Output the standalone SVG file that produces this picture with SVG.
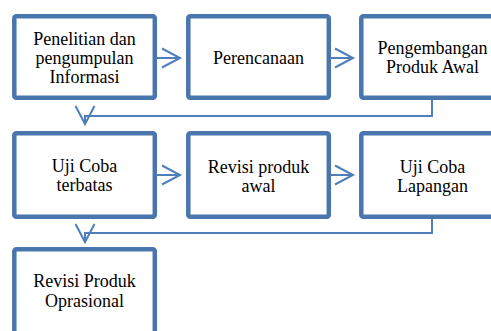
<svg xmlns="http://www.w3.org/2000/svg" width="491" height="331" viewBox="0 0 491 331">
<defs>
<style>
.box{fill:#ffffff;stroke:#4a76ae;stroke-width:4.5}
.t{font-family:"Liberation Serif","Times New Roman",serif;font-size:18px;fill:#000;text-anchor:middle}
.c{fill:none;stroke:#4f7fbb;stroke-width:2}
</style>
<marker id="ah" markerUnits="userSpaceOnUse" viewBox="-20 -12 22 24" markerWidth="22" markerHeight="24" refX="0" refY="0" orient="auto" overflow="visible">
<path d="M-18,-9.5 L0,0 L-18,9.5" fill="none" stroke="#4f7fbb" stroke-width="2"/>
</marker>
</defs>
<rect width="491" height="331" fill="#ffffff"/>
<g id="connectors">
<path class="c" d="M157,58 H180" marker-end="url(#ah)"/>
<path class="c" d="M331,58 H353" marker-end="url(#ah)"/>
<path class="c" d="M432,100 V116 H85 V124" marker-end="url(#ah)"/>
<path class="c" d="M157,175 H180" marker-end="url(#ah)"/>
<path class="c" d="M331,175 H353" marker-end="url(#ah)"/>
<path class="c" d="M432,219 V233 H85 V242" marker-end="url(#ah)"/>
</g>
<g id="n1"><rect class="box" x="14.3" y="16.3" width="140.5" height="81.5" rx="2"/>
<text class="t" x="84.5" y="45">Penelitian dan</text><text class="t" x="84.5" y="64">pengumpulan</text><text class="t" x="84.5" y="83">Informasi</text></g>
<g id="n2"><rect class="box" x="188.3" y="16.3" width="140.5" height="81.5" rx="2"/>
<text class="t" x="258.5" y="63.5">Perencanaan</text></g>
<g id="n3"><rect class="box" x="361.3" y="16.3" width="140.5" height="81.5" rx="2"/>
<text class="t" x="432.5" y="54">Pengembangan</text><text class="t" x="432.5" y="73">Produk Awal</text></g>
<g id="n4"><rect class="box" x="14.3" y="133.3" width="140.5" height="83.5" rx="2"/>
<text class="t" x="84.5" y="172">Uji Coba</text><text class="t" x="84.5" y="191">terbatas</text></g>
<g id="n5"><rect class="box" x="188.3" y="133.3" width="140.5" height="83.5" rx="2"/>
<text class="t" x="258.5" y="172.5">Revisi produk</text><text class="t" x="258.5" y="191.5">awal</text></g>
<g id="n6"><rect class="box" x="361.3" y="133.3" width="140.5" height="83.5" rx="2"/>
<text class="t" x="432.5" y="172.5">Uji Coba</text><text class="t" x="432.5" y="191.5">Lapangan</text></g>
<g id="n7"><rect class="box" x="14.3" y="249.3" width="140.5" height="90" rx="2"/>
<text class="t" x="84.5" y="287">Revisi Produk</text><text class="t" x="84.5" y="306.5">Oprasional</text></g>
</svg>
